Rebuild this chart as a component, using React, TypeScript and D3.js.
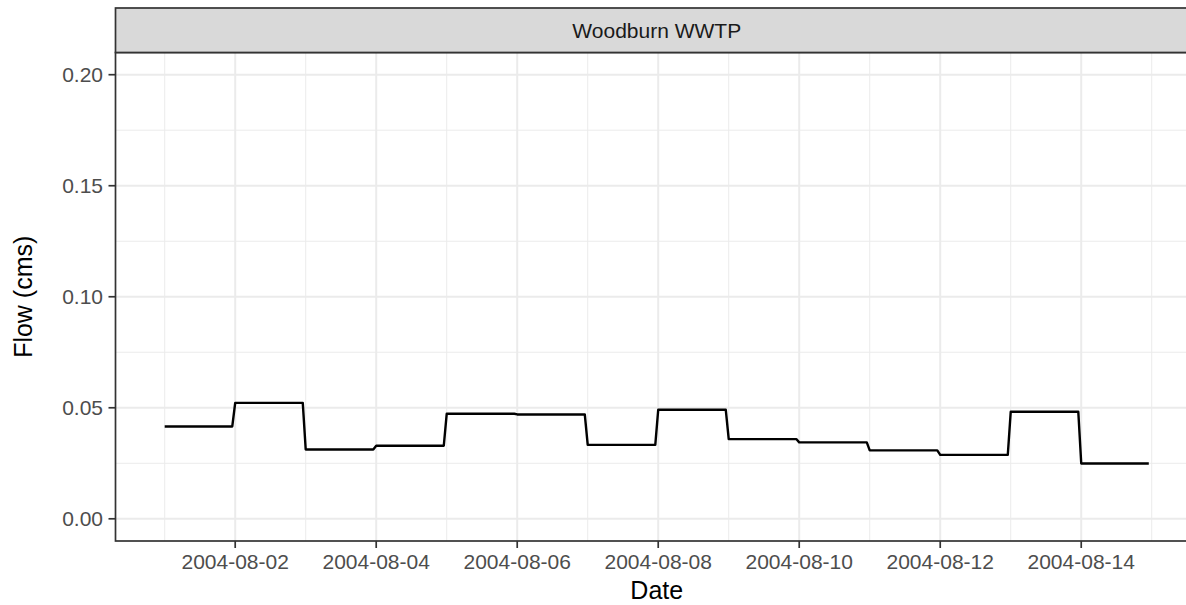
import { useEffect, useRef } from 'react';
import * as d3 from 'd3';

// daily mean flow (cms), one value per day starting 2004-08-01
const dayLabels = [
  "2004-08-01", "2004-08-02", "2004-08-03", "2004-08-04", "2004-08-05",
  "2004-08-06", "2004-08-07", "2004-08-08", "2004-08-09", "2004-08-10",
  "2004-08-11", "2004-08-12", "2004-08-13", "2004-08-14",
];
const flowValues = [
  0.0416, 0.0522, 0.0312, 0.0329, 0.0473, 0.0470, 0.0333,
  0.0491, 0.0359, 0.0344, 0.0308, 0.0288, 0.0482, 0.0249,
];
const yTicks = [0, 0.05, 0.1, 0.15, 0.2];
const yMinor = [0.025, 0.075, 0.125, 0.175];
const xTickLabels = ["2004-08-02", "2004-08-04", "2004-08-06", "2004-08-08", "2004-08-10", "2004-08-12", "2004-08-14"];
const xMinorLabels = ["2004-08-01", "2004-08-03", "2004-08-05", "2004-08-07", "2004-08-09", "2004-08-11", "2004-08-13", "2004-08-15"];
const stripLabel = "Woodburn WWTP";

const W = 1186;
const H = 605;
const FONT = "'Liberation Sans', Arial, Helvetica, sans-serif";

const App = () => {
  const ref = useRef<SVGSVGElement>(null);

  useEffect(() => {
    if (!ref.current) return;
    const svg = d3.select(ref.current);
    svg.selectAll("*").remove();

    const parse = (s: string) => new Date(s + "T00:00:00Z");
    const hour = 3600 * 1000;

    // each day is flat from 00:00 to 23:00 (hourly record)
    const points: { t: Date; v: number }[] = [];
    dayLabels.forEach((d, i) => {
      const t0 = parse(d);
      points.push({ t: t0, v: flowValues[i] });
      points.push({ t: new Date(t0.getTime() + 23 * hour), v: flowValues[i] });
    });

    const tMin = points[0].t.getTime();
    const tMax = points[points.length - 1].t.getTime();
    const pad = (tMax - tMin) * 0.05;

    const left = 115.5;
    const right = 1198;
    const top = 52.5;
    const bottom = 541;

    const x = d3.scaleUtc()
      .domain([new Date(tMin - pad), new Date(tMax + pad)])
      .range([left, right]);
    const y = d3.scaleLinear()
      .domain([-0.01, 0.21])
      .range([bottom, top]);

    // panel background
    svg.append("rect")
      .attr("x", left).attr("y", top)
      .attr("width", right - left).attr("height", bottom - top)
      .attr("fill", "white");

    const grid = svg.append("g");
    // minor grid
    grid.selectAll(".ymin").data(yMinor).enter().append("line")
      .attr("x1", left).attr("x2", right)
      .attr("y1", d => y(d)).attr("y2", d => y(d))
      .attr("stroke", "#EBEBEB").attr("stroke-width", 1);
    grid.selectAll(".xmin").data(xMinorLabels).enter().append("line")
      .attr("x1", d => x(parse(d))).attr("x2", d => x(parse(d)))
      .attr("y1", top).attr("y2", bottom)
      .attr("stroke", "#EBEBEB").attr("stroke-width", 1);
    // major grid
    grid.selectAll(".ymaj").data(yTicks).enter().append("line")
      .attr("x1", left).attr("x2", right)
      .attr("y1", d => y(d)).attr("y2", d => y(d))
      .attr("stroke", "#EBEBEB").attr("stroke-width", 2);
    grid.selectAll(".xmaj").data(xTickLabels).enter().append("line")
      .attr("x1", d => x(parse(d))).attr("x2", d => x(parse(d)))
      .attr("y1", top).attr("y2", bottom)
      .attr("stroke", "#EBEBEB").attr("stroke-width", 2);

    // flow line
    const line = d3.line<{ t: Date; v: number }>()
      .x(d => x(d.t))
      .y(d => y(d.v));
    svg.append("path")
      .datum(points)
      .attr("d", line)
      .attr("fill", "none")
      .attr("stroke", "black")
      .attr("stroke-width", 2.4)
      .attr("stroke-linejoin", "round");

    // panel border
    svg.append("rect")
      .attr("x", left).attr("y", top)
      .attr("width", right - left).attr("height", bottom - top)
      .attr("fill", "none")
      .attr("stroke", "#333333").attr("stroke-width", 1.7);

    // strip
    svg.append("rect")
      .attr("x", left).attr("y", 8)
      .attr("width", right - left).attr("height", top - 8)
      .attr("fill", "#D9D9D9")
      .attr("stroke", "#333333").attr("stroke-width", 1.7);
    svg.append("text")
      .attr("x", (left + right) / 2)
      .attr("y", (8 + top) / 2)
      .attr("dy", "0.35em")
      .attr("text-anchor", "middle")
      .style("font-family", FONT)
      .style("font-size", "21px")
      .style("fill", "#1A1A1A")
      .text(stripLabel);

    // y axis ticks + labels
    const yAxis = svg.append("g");
    yAxis.selectAll("line").data(yTicks).enter().append("line")
      .attr("x1", left - 7).attr("x2", left)
      .attr("y1", d => y(d)).attr("y2", d => y(d))
      .attr("stroke", "#333333").attr("stroke-width", 1.7);
    yAxis.selectAll("text").data(yTicks).enter().append("text")
      .attr("x", left - 12.5)
      .attr("y", d => y(d))
      .attr("dy", "0.36em")
      .attr("text-anchor", "end")
      .style("font-family", FONT)
      .style("font-size", "21px")
      .style("fill", "#4D4D4D")
      .text(d => d3.format(".2f")(d));

    // x axis ticks + labels
    const xAxis = svg.append("g");
    xAxis.selectAll("line").data(xTickLabels).enter().append("line")
      .attr("x1", d => x(parse(d))).attr("x2", d => x(parse(d)))
      .attr("y1", bottom).attr("y2", bottom + 7)
      .attr("stroke", "#333333").attr("stroke-width", 1.7);
    xAxis.selectAll("text").data(xTickLabels).enter().append("text")
      .attr("x", d => x(parse(d)))
      .attr("y", 569)
      .attr("text-anchor", "middle")
      .style("font-family", FONT)
      .style("font-size", "21px")
      .style("fill", "#4D4D4D")
      .text(d => d);

    // axis titles
    svg.append("text")
      .attr("x", (left + right) / 2)
      .attr("y", 599)
      .attr("text-anchor", "middle")
      .style("font-family", FONT)
      .style("font-size", "25px")
      .style("fill", "black")
      .text("Date");
    svg.append("text")
      .attr("transform", `translate(32, ${(top + bottom) / 2}) rotate(-90)`)
      .attr("text-anchor", "middle")
      .style("font-family", FONT)
      .style("font-size", "25px")
      .style("fill", "black")
      .text("Flow (cms)");
  }, []);

  return (
    <svg
      ref={ref}
      width={W}
      height={H}
      style={{ position: "absolute", left: 0, top: 0, background: "white" }}
    />
  );
};

export default App;
